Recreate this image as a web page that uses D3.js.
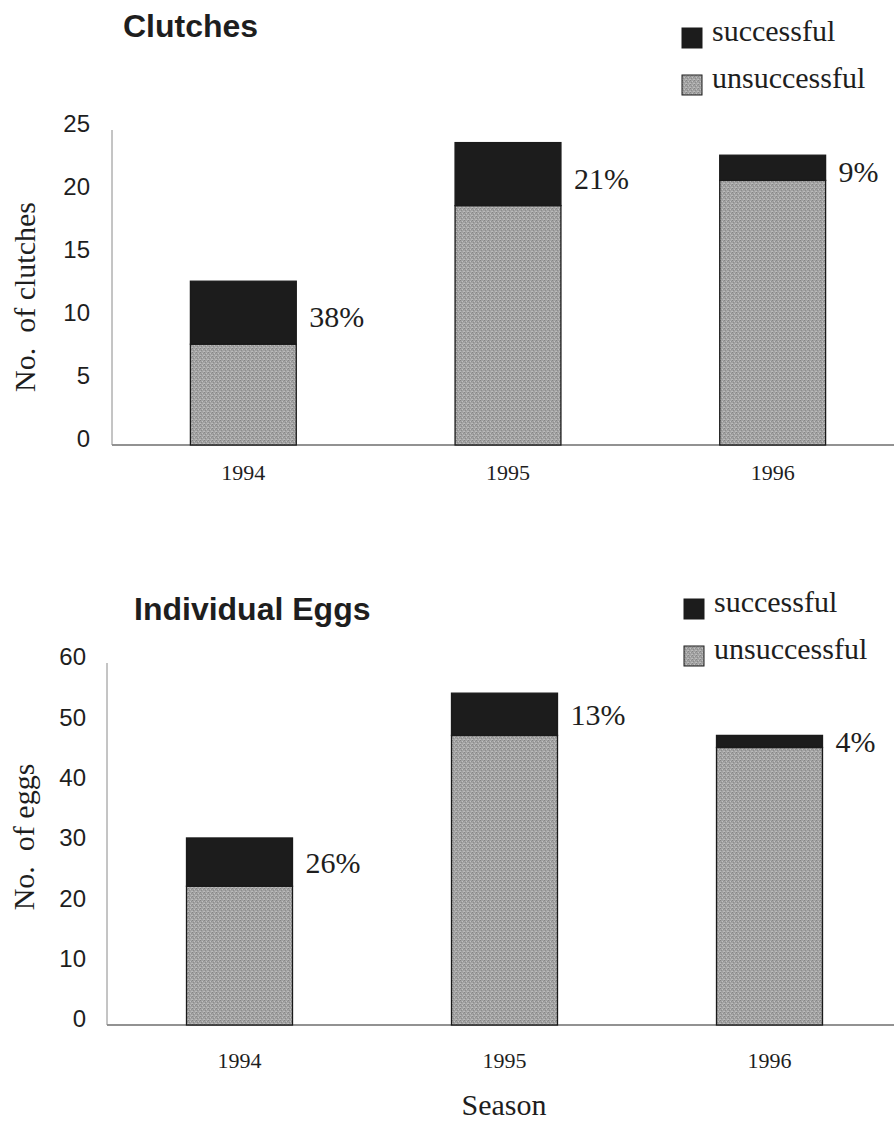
<!DOCTYPE html>
<html>
<head>
<meta charset="utf-8">
<script src="https://cdn.jsdelivr.net/npm/d3@7/dist/d3.min.js"></script>
<style>
  html, body { margin: 0; padding: 0; background: #fff; }
  svg { display: block; }
</style>
</head>
<body>
<svg id="chart" width="894" height="1126"></svg>
<script>
// ---------- DATA ----------
const seasons = ["1994", "1995", "1996"];
const seriesNames = ["successful", "unsuccessful"];

const clutchSuccessful   = [5, 5, 2];
const clutchUnsuccessful = [8, 19, 21];
const clutchTicks = [0, 5, 10, 15, 20, 25];

const eggSuccessful   = [8, 7, 2];
const eggUnsuccessful = [23, 48, 46];
const eggTicks = [0, 10, 20, 30, 40, 50, 60];

const xAxisTitle = "Season";

// ---------- DRAWING ----------
const svg = d3.select("#chart");
const serif = "'Liberation Serif', 'Times New Roman', serif";
const sans = "'Liberation Sans', Arial, sans-serif";
const darkFill = "#1c1c1c";
const ink = "#1e1e1e";

// stipple texture for unsuccessful
const defs = svg.append("defs");
const pat = defs.append("pattern")
  .attr("id", "stipple").attr("patternUnits", "userSpaceOnUse")
  .attr("width", 4).attr("height", 4);
pat.append("rect").attr("width", 4).attr("height", 4).attr("fill", "#a2a2a2");
[[0,0,"#858585"],[2,1,"#c0c0c0"],[1,2,"#8c8c8c"],[3,3,"#b8b8b8"],[3,1,"#929292"],[0,3,"#bcbcbc"]]
  .forEach(([x,y,c]) => pat.append("rect").attr("x", x).attr("y", y).attr("width", 1).attr("height", 1).attr("fill", c));

const fills = { successful: darkFill, unsuccessful: "url(#stipple)" };

function drawChart(cfg) {
  const g = svg.append("g");
  const y = d3.scaleLinear().domain([0, d3.max(cfg.ticks)]).range([cfg.y0, cfg.y1]);
  const x = d3.scaleBand().domain(seasons).range([cfg.xLeft, cfg.xRight])
    .paddingInner(0.6).paddingOuter(0.3);

  const rows = seasons.map((s, i) => ({ season: s, successful: cfg.succ[i], unsuccessful: cfg.unsucc[i] }));
  const stack = d3.stack().keys(["unsuccessful", "successful"])(rows);

  // axes lines
  g.append("line").attr("x1", cfg.axisX).attr("x2", 900).attr("y1", cfg.y0).attr("y2", cfg.y0)
    .attr("stroke", "#6e6e6e").attr("stroke-width", 1.3);
  g.append("line").attr("x1", cfg.axisX).attr("x2", cfg.axisX).attr("y1", cfg.y0).attr("y2", cfg.y1)
    .attr("stroke", "#8a8a8a").attr("stroke-width", 1);

  // y tick labels
  const yAxis = d3.axisLeft(y).tickValues(cfg.ticks).tickSize(0).tickPadding(0);
  const ya = g.append("g").attr("transform", `translate(${cfg.tickRight},-6)`).call(yAxis);
  ya.select(".domain").remove();
  ya.selectAll("text").attr("font-family", sans).attr("font-size", 24).attr("fill", ink);

  // bars
  stack.forEach(layer => {
    g.append("g").selectAll("rect").data(layer).join("rect")
      .attr("x", d => x(d.data.season))
      .attr("width", x.bandwidth())
      .attr("y", d => y(d[1]))
      .attr("height", d => y(d[0]) - y(d[1]))
      .attr("fill", fills[layer.key])
      .attr("stroke", "#1a1a1a").attr("stroke-width", 1.3);
  });

  // percentage labels
  g.append("g").selectAll("text").data(rows).join("text")
    .attr("x", d => x(d.season) + x.bandwidth() + 13)
    .attr("y", d => (y(d.unsuccessful) + y(d.unsuccessful + d.successful)) / 2 + cfg.pctDy)
    .attr("dominant-baseline", "central")
    .attr("font-family", serif).attr("font-size", 30).attr("fill", ink)
    .text(d => Math.round(100 * d.successful / (d.successful + d.unsuccessful)) + "%");

  // x labels
  const xAxis = d3.axisBottom(x).tickSize(0).tickPadding(0);
  const xa = g.append("g").attr("transform", `translate(0,${cfg.xLabelBase})`).call(xAxis);
  xa.select(".domain").remove();
  xa.selectAll("text").attr("font-family", serif).attr("font-size", 22).attr("fill", ink)
    .attr("dy", 0).attr("dominant-baseline", "alphabetic");

  // title
  g.append("text").attr("x", cfg.titleX).attr("y", cfg.titleY)
    .attr("font-family", sans).attr("font-weight", "bold").attr("font-size", 32).attr("fill", ink)
    .text(cfg.title);

  // y axis title
  g.append("text")
    .attr("transform", `translate(${cfg.yTitleX},${cfg.yTitleY}) rotate(-90)`)
    .attr("text-anchor", "middle").style("white-space", "pre")
    .attr("font-family", serif).attr("font-size", 30).attr("fill", ink)
    .text(cfg.yTitle);

  // legend
  const lg = g.append("g").selectAll("g").data(seriesNames).join("g")
    .attr("transform", (d, i) => `translate(${cfg.legX},${cfg.legY + i * cfg.legStep})`);
  lg.append("rect").attr("x", 0).attr("y", -13).attr("width", 20).attr("height", 20)
    .attr("fill", d => fills[d]).attr("stroke", "#1a1a1a").attr("stroke-width", 1);
  lg.append("text").attr("x", 30).attr("y", 0)
    .attr("font-family", serif).attr("font-size", 30).attr("fill", ink)
    .text(d => d);
}

drawChart({
  title: "Clutches", yTitle: "No.  of clutches",
  succ: clutchSuccessful, unsucc: clutchUnsuccessful, ticks: clutchTicks,
  y0: 445, y1: 130, xLeft: 111, xRight: 905, axisX: 112, tickRight: 90,
  pctDy: 4, xLabelBase: 480,
  titleX: 123, titleY: 37, yTitleX: 35, yTitleY: 297,
  legX: 682, legY: 41, legStep: 47
});

drawChart({
  title: "Individual Eggs", yTitle: "No.  of eggs",
  succ: eggSuccessful, unsucc: eggUnsuccessful, ticks: eggTicks,
  y0: 1025, y1: 663, xLeft: 107, xRight: 902, axisX: 107, tickRight: 86,
  pctDy: 0, xLabelBase: 1068,
  titleX: 134, titleY: 620, yTitleX: 34, yTitleY: 837,
  legX: 684, legY: 612, legStep: 47
});

svg.append("text").attr("x", 504).attr("y", 1115).attr("text-anchor", "middle")
  .attr("font-family", serif).attr("font-size", 30).attr("fill", ink)
  .text(xAxisTitle);
</script>
</body>
</html>
